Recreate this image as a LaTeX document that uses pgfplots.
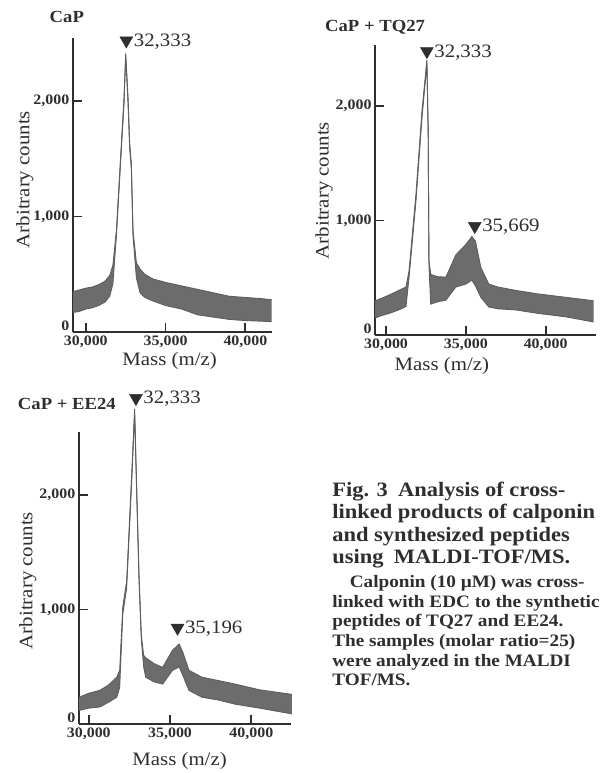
\documentclass[border=0pt]{standalone}
\usepackage{fontspec}
\setmainfont{Liberation Serif}[FakeStretch=1.1]
\usepackage{pgfplots}
\pgfplotsset{compat=1.18}
\usepgfplotslibrary{fillbetween}
\definecolor{ink}{HTML}{2E2E2E}
\definecolor{dots}{HTML}{5E5E5E}
\definecolor{band}{HTML}{6C6C6C}

% spectra: x, lower and upper edge of the noisy trace
\pgfplotstableread{
x lo hi
29200 170 350
29600 180 365
30000 200 380
30400 210 390
30800 230 410
31200 260 440
31500 310 490
31700 420 580
31917 830 880
32229 1580 1630
32396 1980 2030
32500 2380 2410
32646 1985 2030
32750 1585 1630
32855 1410 1455
32958 835 880
33170 470 600
33400 340 545
33700 300 500
34200 270 460
35000 230 430
36000 200 400
37000 150 370
38000 130 340
39000 110 310
40000 100 300
41000 95 290
41650 90 280
}\capdata
\pgfplotstableread{
x lo hi
29320 150 300
29700 170 320
30200 190 350
30800 220 390
31250 250 420
31440 500 560
31875 1170 1230
32250 1890 1950
32560 2370 2400
32640 1760 1800
32690 600 650
32800 270 530
33200 290 510
33750 305 505
34375 420 700
35000 445 790
35375 480 860
35600 430 820
35940 330 590
36440 245 445
37000 230 420
38125 220 390
39500 190 360
41250 160 330
43000 115 300
}\tqdata
\pgfplotstableread{
x lo hi
29400 120 235
30000 140 270
30675 150 295
31200 190 340
31720 235 410
31900 320 470
32090 960 1020
32330 1190 1250
32640 2120 2180
32820 2710 2750
32925 2130 2170
33090 1260 1300
33230 740 780
33375 500 600
33500 410 580
34000 370 530
34540 350 495
35150 470 645
35560 500 700
35800 420 620
36160 295 470
36960 235 410
37990 210 380
38990 175 350
40500 140 300
42490 90 260
}\eedata

\pgfplotsset{
  panel/.style={
    scale only axis,
    axis lines*=left,
    axis line style={draw=ink, line width=1.6pt, -},
    tick align=inside,
    major tick length=9pt,
    every tick/.style={draw=ink, line width=1.8pt},
    ymin=0,
    xtick={30000,35000,40000},
    ytick={1000,2000},
    extra y ticks={0},
    extra y tick style={yticklabel style={yshift=6pt}},
    scaled ticks=false,
    /pgf/number format/1000 sep={,},
    /pgf/number format/assume math mode=true,
    tick label style={font=\fontsize{14.5}{15}\selectfont\bfseries, text=ink},
    clip=false,
    anchor=south west,
  },
  trace/.style={draw=dots, line width=0.9pt},
  peak/.style={only marks, mark=triangle*, mark size=7.5pt,
    mark options={rotate=180, fill=ink, draw=ink},
    every node near coord/.append style={anchor=west, xshift=4pt, yshift=-1pt,
      font=\fontsize{19}{20}\selectfont, text=ink}},
}

\begin{document}
\begin{tikzpicture}

% CaP
\begin{axis}[panel, at={(73pt,-333pt)}, width=200pt, height=295pt,
  xmin=29187, xmax=41687, ymax=2543]
\addplot[trace, name path=u] table[x=x, y=hi] {\capdata};
\addplot[trace, name path=l] table[x=x, y=lo] {\capdata};
\addplot[band] fill between[of=u and l];
\addplot[peak, nodes near coords={32,333}] coordinates {(32540,2520)};
\end{axis}

% CaP + TQ27
\begin{axis}[panel, at={(376pt,-336pt)}, width=221pt, height=291pt,
  xmin=29312, xmax=43125, ymax=2530]
\addplot[trace, name path=u] table[x=x, y=hi] {\tqdata};
\addplot[trace, name path=l] table[x=x, y=lo] {\tqdata};
\addplot[band] fill between[of=u and l];
\addplot[peak, nodes near coords={32,333}] coordinates {(32560,2475)};
\addplot[peak, nodes near coords={35,669}] coordinates {(35560,950)};
\end{axis}

% CaP + EE24
\begin{axis}[panel, at={(79pt,-726pt)}, width=213pt, height=293pt,
  xmin=29386, xmax=42454, ymax=2550]
\addplot[trace, name path=u] table[x=x, y=hi] {\eedata};
\addplot[trace, name path=l] table[x=x, y=lo] {\eedata};
\addplot[band] fill between[of=u and l];
\addplot[peak, nodes near coords={32,333}] coordinates {(32900,2845)};
\addplot[peak, nodes near coords={35,196}] coordinates {(35460,840)};
\end{axis}

\begin{scope}[x=1pt, y=-1pt, text=ink]
\path (0,0) rectangle (606,773);
\node[font=\fontsize{17}{18}\selectfont\bfseries] at (67,17) {CaP};
\node[font=\fontsize{17}{18}\selectfont\bfseries] at (376,27) {CaP + TQ27};
\node[font=\fontsize{17}{18}\selectfont\bfseries] at (67,405) {CaP + EE24};
\node[font=\fontsize{19}{20}\selectfont, rotate=90] at (25,180) {Arbitrary counts};
\node[font=\fontsize{19}{20}\selectfont, rotate=90] at (325,191) {Arbitrary counts};
\node[font=\fontsize{19}{20}\selectfont, rotate=90] at (28,582) {Arbitrary counts};
\node[font=\fontsize{19}{20}\selectfont] at (170,362) {Mass (m/z)};
\node[font=\fontsize{19}{20}\selectfont] at (443,367) {Mass (m/z)};
\node[font=\fontsize{19}{20}\selectfont] at (180,763) {Mass (m/z)};
\node[anchor=north west, inner sep=0pt, align=left,
  font=\fontsize{20.5}{22.5}\selectfont\bfseries] at (333,483)
  {Fig. 3\enspace Analysis of cross-\\
   linked products of calponin\\
   and synthesized peptides\\
   using\enspace MALDI-TOF/MS.};
\node[anchor=north west, inner sep=0pt, align=left,
  font=\fontsize{17.5}{19.6}\selectfont\bfseries] at (333,577)
  {\hspace*{1em}Calponin (10 µM) was cross-\\
   linked with EDC to the synthetic\\
   peptides of TQ27 and EE24.\\
   The samples (molar ratio=25)\\
   were analyzed in the MALDI\\
   TOF/MS.};
\end{scope}
\end{tikzpicture}
\end{document}
